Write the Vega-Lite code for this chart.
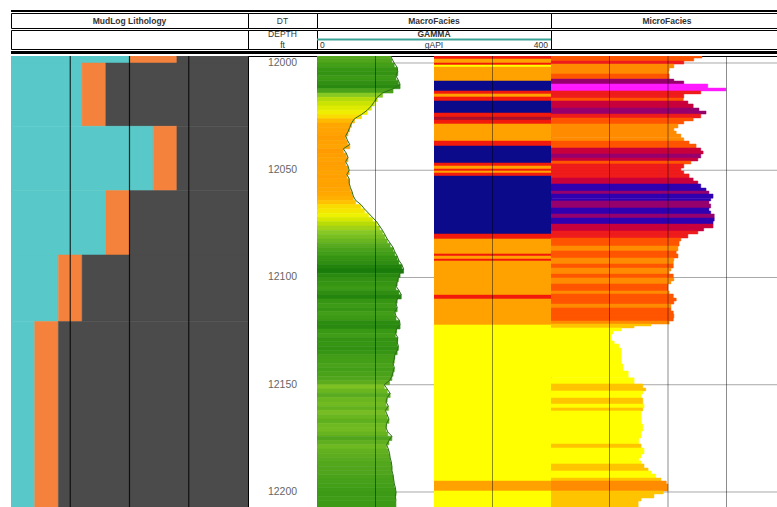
{
"$schema":"https://vega.github.io/schema/vega-lite/v6.json",
"padding":{"left":10,"top":10,"right":0,"bottom":0},
"background":"white",
"config":{"view":{"stroke":"black","strokeWidth":1},"concat":{"spacing":0},"text":{"font":"Liberation Sans","color":"#333"}},
"datasets":{
"lith":[{"d":11995.8,"d2":12000,"t":"lime","a":0,"b":50},{"d":11995.8,"d2":12000,"t":"sand","a":50,"b":70},{"d":11995.8,"d2":12000,"t":"shale","a":70,"b":100},
{"d":12000,"d2":12029.5,"t":"lime","a":0,"b":30},{"d":12000,"d2":12029.5,"t":"sand","a":30,"b":40},{"d":12000,"d2":12029.5,"t":"shale","a":40,"b":100},
{"d":12029.5,"d2":12059.5,"t":"lime","a":0,"b":60},{"d":12029.5,"d2":12059.5,"t":"sand","a":60,"b":70},{"d":12029.5,"d2":12059.5,"t":"shale","a":70,"b":100},
{"d":12059.5,"d2":12089.5,"t":"lime","a":0,"b":40},{"d":12059.5,"d2":12089.5,"t":"sand","a":40,"b":50},{"d":12059.5,"d2":12089.5,"t":"shale","a":50,"b":100},
{"d":12089.5,"d2":12120.5,"t":"lime","a":0,"b":20},{"d":12089.5,"d2":12120.5,"t":"sand","a":20,"b":30},{"d":12089.5,"d2":12120.5,"t":"shale","a":30,"b":100},
{"d":12120.5,"d2":12207,"t":"lime","a":0,"b":10},{"d":12120.5,"d2":12207,"t":"sand","a":10,"b":20},{"d":12120.5,"d2":12207,"t":"shale","a":20,"b":100}],
"labels":[{"depth":12000},{"depth":12050},{"depth":12100},{"depth":12150},{"depth":12200}],
"g4":[{"x":25},{"x":50},{"x":75}],
"vg":[{"x":100},{"x":200},{"x":300}],
"gamma":[{"d":11995.8,"d2":11998,"v":126},{"d":11998,"d2":12000,"v":128},{"d":12000,"d2":12002,"v":132},{"d":12002,"d2":12004,"v":137},{"d":12004,"d2":12006,"v":138},{"d":12006,"d2":12008,"v":135},{"d":12008,"d2":12010,"v":139},{"d":12010,"d2":12012,"v":142},{"d":12012,"d2":12014,"v":130},{"d":12014,"d2":12016,"v":112},{"d":12016,"d2":12018,"v":103},{"d":12018,"d2":12020,"v":98},{"d":12020,"d2":12022,"v":93},{"d":12022,"d2":12024,"v":86},{"d":12024,"d2":12026,"v":76},{"d":12026,"d2":12028,"v":64},{"d":12028,"d2":12030,"v":59},{"d":12030,"d2":12032,"v":56},{"d":12032,"d2":12034,"v":53},{"d":12034,"d2":12036,"v":49},{"d":12036,"d2":12038,"v":52},{"d":12038,"d2":12040,"v":56},{"d":12040,"d2":12042,"v":45},{"d":12042,"d2":12044,"v":50},{"d":12044,"d2":12046,"v":53},{"d":12046,"d2":12048,"v":49},{"d":12048,"d2":12050,"v":53},{"d":12050,"d2":12052,"v":55},{"d":12052,"d2":12054,"v":51},{"d":12054,"d2":12056,"v":55},{"d":12056,"d2":12058,"v":55},{"d":12058,"d2":12060,"v":57},{"d":12060,"d2":12062,"v":60},{"d":12062,"d2":12064,"v":62},{"d":12064,"d2":12066,"v":66},{"d":12066,"d2":12068,"v":75},{"d":12068,"d2":12070,"v":81},{"d":12070,"d2":12072,"v":88},{"d":12072,"d2":12074,"v":95},{"d":12074,"d2":12076,"v":102},{"d":12076,"d2":12078,"v":107},{"d":12078,"d2":12080,"v":112},{"d":12080,"d2":12082,"v":116},{"d":12082,"d2":12084,"v":120},{"d":12084,"d2":12086,"v":125},{"d":12086,"d2":12088,"v":130},{"d":12088,"d2":12090,"v":133},{"d":12090,"d2":12092,"v":137},{"d":12092,"d2":12094,"v":140},{"d":12094,"d2":12096,"v":145},{"d":12096,"d2":12098,"v":148},{"d":12098,"d2":12100,"v":142},{"d":12100,"d2":12102,"v":139},{"d":12102,"d2":12104,"v":137},{"d":12104,"d2":12106,"v":135},{"d":12106,"d2":12108,"v":140},{"d":12108,"d2":12110,"v":144},{"d":12110,"d2":12112,"v":137},{"d":12112,"d2":12114,"v":135},{"d":12114,"d2":12116,"v":137},{"d":12116,"d2":12118,"v":133},{"d":12118,"d2":12120,"v":135},{"d":12120,"d2":12122,"v":141},{"d":12122,"d2":12124,"v":142},{"d":12124,"d2":12126,"v":136},{"d":12126,"d2":12128,"v":134},{"d":12128,"d2":12130,"v":138},{"d":12130,"d2":12132,"v":137},{"d":12132,"d2":12134,"v":139},{"d":12134,"d2":12136,"v":137},{"d":12136,"d2":12138,"v":133},{"d":12138,"d2":12140,"v":132},{"d":12140,"d2":12142,"v":130},{"d":12142,"d2":12144,"v":132},{"d":12144,"d2":12146,"v":130},{"d":12146,"d2":12148,"v":128},{"d":12148,"d2":12150,"v":124},{"d":12150,"d2":12152,"v":115},{"d":12152,"d2":12154,"v":120},{"d":12154,"d2":12156,"v":125},{"d":12156,"d2":12158,"v":120},{"d":12158,"d2":12160,"v":118},{"d":12160,"d2":12162,"v":122},{"d":12162,"d2":12164,"v":117},{"d":12164,"d2":12166,"v":120},{"d":12166,"d2":12168,"v":123},{"d":12168,"d2":12170,"v":119},{"d":12170,"d2":12172,"v":118},{"d":12172,"d2":12174,"v":121},{"d":12174,"d2":12176,"v":128},{"d":12176,"d2":12178,"v":123},{"d":12178,"d2":12180,"v":119},{"d":12180,"d2":12182,"v":122},{"d":12182,"d2":12184,"v":124},{"d":12184,"d2":12186,"v":125},{"d":12186,"d2":12188,"v":127},{"d":12188,"d2":12190,"v":128},{"d":12190,"d2":12192,"v":128},{"d":12192,"d2":12194,"v":130},{"d":12194,"d2":12196,"v":131},{"d":12196,"d2":12198,"v":132},{"d":12198,"d2":12200,"v":134},{"d":12200,"d2":12202,"v":135},{"d":12202,"d2":12204,"v":134},{"d":12204,"d2":12207,"v":135}],
"macro":[{"d":11995.8,"d2":11998.1,"c":"R"},{"d":11998.1,"d2":12000.0,"c":"O"},{"d":12000.0,"d2":12000.9,"c":"R"},{"d":12000.9,"d2":12001.9,"c":"Y"},{"d":12001.9,"d2":12008.4,"c":"O"},{"d":12008.4,"d2":12013.0,"c":"N"},{"d":12013.0,"d2":12014.4,"c":"R"},{"d":12014.4,"d2":12015.8,"c":"O"},{"d":12015.8,"d2":12017.7,"c":"R"},{"d":12017.7,"d2":12023.3,"c":"N"},{"d":12023.3,"d2":12025.2,"c":"R"},{"d":12025.2,"d2":12026.6,"c":"DR"},{"d":12026.6,"d2":12028.4,"c":"R"},{"d":12028.4,"d2":12036.4,"c":"O"},{"d":12036.4,"d2":12038.7,"c":"R"},{"d":12038.7,"d2":12046.6,"c":"N"},{"d":12046.6,"d2":12048.0,"c":"R"},{"d":12048.0,"d2":12049.4,"c":"O"},{"d":12049.4,"d2":12050.3,"c":"R"},{"d":12050.3,"d2":12051.3,"c":"O"},{"d":12051.3,"d2":12052.7,"c":"R"},{"d":12052.7,"d2":12079.7,"c":"N"},{"d":12079.7,"d2":12082.0,"c":"R"},{"d":12082.0,"d2":12089.0,"c":"O"},{"d":12089.0,"d2":12090.0,"c":"R"},{"d":12090.0,"d2":12091.4,"c":"O"},{"d":12091.4,"d2":12092.3,"c":"R"},{"d":12092.3,"d2":12108.2,"c":"O"},{"d":12108.2,"d2":12110.0,"c":"R"},{"d":12110.0,"d2":12122.1,"c":"O"},{"d":12122.1,"d2":12194.9,"c":"Y"},{"d":12194.9,"d2":12199.5,"c":"O"},{"d":12199.5,"d2":12207,"c":"Y"}],
"micro":[{"d":11995.8,"d2":11997.7,"v":258,"c":"RO"},{"d":11997.7,"d2":11999.1,"v":244,"c":"RO"},{"d":11999.1,"d2":12000.5,"v":227,"c":"R"},{"d":12000.5,"d2":12002.3,"v":210,"c":"O"},{"d":12002.3,"d2":12003.7,"v":202,"c":"O"},{"d":12003.7,"d2":12005.1,"v":201,"c":"O"},{"d":12005.1,"d2":12007.5,"v":202,"c":"RO"},{"d":12007.5,"d2":12008.4,"v":210,"c":"P"},{"d":12008.4,"d2":12009.8,"v":227,"c":"P"},{"d":12009.8,"d2":12011.7,"v":268,"c":"M"},{"d":12011.7,"d2":12013.0,"v":299,"c":"M"},{"d":12013.0,"d2":12014.4,"v":256,"c":"R"},{"d":12014.4,"d2":12016.3,"v":227,"c":"R"},{"d":12016.3,"d2":12017.7,"v":226,"c":"RO"},{"d":12017.7,"d2":12019.1,"v":234,"c":"C"},{"d":12019.1,"d2":12021.0,"v":243,"c":"C"},{"d":12021.0,"d2":12022.4,"v":253,"c":"P"},{"d":12022.4,"d2":12023.8,"v":265,"c":"P"},{"d":12023.8,"d2":12025.6,"v":256,"c":"R"},{"d":12025.6,"d2":12027.0,"v":243,"c":"RO"},{"d":12027.0,"d2":12028.4,"v":227,"c":"RO"},{"d":12028.4,"d2":12030.3,"v":217,"c":"O"},{"d":12030.3,"d2":12031.7,"v":210,"c":"O"},{"d":12031.7,"d2":12033.1,"v":214,"c":"O"},{"d":12033.1,"d2":12034.9,"v":222,"c":"O"},{"d":12034.9,"d2":12036.4,"v":227,"c":"O"},{"d":12036.4,"d2":12037.8,"v":236,"c":"RO"},{"d":12037.8,"d2":12039.6,"v":248,"c":"RO"},{"d":12039.6,"d2":12041.0,"v":256,"c":"C"},{"d":12041.0,"d2":12042.4,"v":260,"c":"C"},{"d":12042.4,"d2":12044.3,"v":256,"c":"P"},{"d":12044.3,"d2":12045.7,"v":251,"c":"C"},{"d":12045.7,"d2":12047.1,"v":239,"c":"RO"},{"d":12047.1,"d2":12049.0,"v":227,"c":"R"},{"d":12049.0,"d2":12050.3,"v":222,"c":"R"},{"d":12050.3,"d2":12051.7,"v":227,"c":"R"},{"d":12051.7,"d2":12053.6,"v":236,"c":"R"},{"d":12053.6,"d2":12055.0,"v":243,"c":"C"},{"d":12055.0,"d2":12056.4,"v":251,"c":"C"},{"d":12056.4,"d2":12058.3,"v":256,"c":"I"},{"d":12058.3,"d2":12059.7,"v":265,"c":"I"},{"d":12059.7,"d2":12061.1,"v":270,"c":"P"},{"d":12061.1,"d2":12063.0,"v":277,"c":"I"},{"d":12063.0,"d2":12064.3,"v":273,"c":"I"},{"d":12064.3,"d2":12065.7,"v":270,"c":"P"},{"d":12065.7,"d2":12067.6,"v":273,"c":"P"},{"d":12067.6,"d2":12069.0,"v":270,"c":"I"},{"d":12069.0,"d2":12070.4,"v":273,"c":"I"},{"d":12070.4,"d2":12072.3,"v":279,"c":"P"},{"d":12072.3,"d2":12073.7,"v":279,"c":"I"},{"d":12073.7,"d2":12075.1,"v":277,"c":"I"},{"d":12075.1,"d2":12076.9,"v":277,"c":"C"},{"d":12076.9,"d2":12078.3,"v":261,"c":"C"},{"d":12078.3,"d2":12079.7,"v":251,"c":"R"},{"d":12079.7,"d2":12081.6,"v":234,"c":"R"},{"d":12081.6,"d2":12083.0,"v":222,"c":"RO"},{"d":12083.0,"d2":12085.3,"v":219,"c":"RO"},{"d":12085.3,"d2":12087.6,"v":217,"c":"O"},{"d":12087.6,"d2":12089.0,"v":214,"c":"RO"},{"d":12089.0,"d2":12090.9,"v":217,"c":"RO"},{"d":12090.9,"d2":12092.3,"v":210,"c":"O"},{"d":12092.3,"d2":12093.7,"v":209,"c":"O"},{"d":12093.7,"d2":12095.6,"v":209,"c":"RO"},{"d":12095.6,"d2":12097.0,"v":205,"c":"O"},{"d":12097.0,"d2":12098.4,"v":202,"c":"O"},{"d":12098.4,"d2":12100.2,"v":209,"c":"RO"},{"d":12100.2,"d2":12101.6,"v":210,"c":"O"},{"d":12101.6,"d2":12103.0,"v":205,"c":"O"},{"d":12103.0,"d2":12104.9,"v":200,"c":"RO"},{"d":12104.9,"d2":12106.3,"v":200,"c":"RO"},{"d":12106.3,"d2":12107.7,"v":202,"c":"O"},{"d":12107.7,"d2":12109.6,"v":209,"c":"RO"},{"d":12109.6,"d2":12111.0,"v":214,"c":"RO"},{"d":12111.0,"d2":12112.4,"v":210,"c":"RO"},{"d":12112.4,"d2":12114.2,"v":205,"c":"O"},{"d":12114.2,"d2":12115.6,"v":205,"c":"RO"},{"d":12115.6,"d2":12117.0,"v":209,"c":"RO"},{"d":12117.0,"d2":12118.9,"v":210,"c":"RO"},{"d":12118.9,"d2":12120.3,"v":209,"c":"RO"},{"d":12120.3,"d2":12121.7,"v":202,"c":"O"},{"d":12121.7,"d2":12122.6,"v":171,"c":"LO"},{"d":12122.6,"d2":12123.5,"v":142,"c":"LO"},{"d":12123.5,"d2":12124.9,"v":120,"c":"Y"},{"d":12124.9,"d2":12126.3,"v":106,"c":"Y"},{"d":12126.3,"d2":12128.2,"v":103,"c":"Y"},{"d":12128.2,"d2":12129.6,"v":103,"c":"Y"},{"d":12129.6,"d2":12131.0,"v":108,"c":"Y"},{"d":12131.0,"d2":12132.9,"v":116,"c":"Y"},{"d":12132.9,"d2":12137.5,"v":120,"c":"Y"},{"d":12137.5,"d2":12140.3,"v":120,"c":"Y"},{"d":12140.3,"d2":12143.6,"v":123,"c":"Y"},{"d":12143.6,"d2":12146.8,"v":132,"c":"Y"},{"d":12146.8,"d2":12149.6,"v":142,"c":"Y"},{"d":12149.6,"d2":12151.5,"v":157,"c":"LO"},{"d":12151.5,"d2":12152.9,"v":162,"c":"LO"},{"d":12152.9,"d2":12154.3,"v":157,"c":"Y"},{"d":12154.3,"d2":12156.2,"v":154,"c":"Y"},{"d":12156.2,"d2":12159.0,"v":157,"c":"LO"},{"d":12159.0,"d2":12160.8,"v":159,"c":"Y"},{"d":12160.8,"d2":12162.2,"v":157,"c":"LO"},{"d":12162.2,"d2":12165.5,"v":154,"c":"Y"},{"d":12165.5,"d2":12168.3,"v":154,"c":"Y"},{"d":12168.3,"d2":12171.6,"v":157,"c":"Y"},{"d":12171.6,"d2":12174.8,"v":154,"c":"Y"},{"d":12174.8,"d2":12177.6,"v":150,"c":"Y"},{"d":12177.6,"d2":12179.5,"v":154,"c":"LO"},{"d":12179.5,"d2":12182.3,"v":159,"c":"Y"},{"d":12182.3,"d2":12184.1,"v":154,"c":"Y"},{"d":12184.1,"d2":12185.5,"v":150,"c":"Y"},{"d":12185.5,"d2":12186.9,"v":154,"c":"Y"},{"d":12186.9,"d2":12188.8,"v":159,"c":"LO"},{"d":12188.8,"d2":12190.2,"v":166,"c":"LO"},{"d":12190.2,"d2":12191.6,"v":171,"c":"Y"},{"d":12191.6,"d2":12193.5,"v":179,"c":"Y"},{"d":12193.5,"d2":12194.9,"v":188,"c":"LO"},{"d":12194.9,"d2":12196.3,"v":197,"c":"O"},{"d":12196.3,"d2":12198.1,"v":200,"c":"O"},{"d":12198.1,"d2":12199.5,"v":200,"c":"O"},{"d":12199.5,"d2":12200.9,"v":192,"c":"LO"},{"d":12200.9,"d2":12202.8,"v":176,"c":"LO"},{"d":12202.8,"d2":12204.2,"v":154,"c":"LO"},{"d":12204.2,"d2":12207,"v":149,"c":"LO"}]
},
"spacing":0,
"resolve":{"scale":{"color":"independent","fill":"independent","stroke":"independent"}},
"vconcat":[
{"width":766,"height":2,"view":{"stroke":null},"data":{"values":[{}]},"mark":{"type":"rect","color":"black"},"encoding":{}},
{"spacing":0,"bounds":"flush","hconcat":[
 {"width":237,"height":15,"data":{"values":[{"t":"MudLog Lithology","k":"h"}]},"mark":{"type":"text","fontWeight":"bold","fontSize":8.5},"encoding":{"y":{"field":"k","type":"nominal","axis":null},"text":{"field":"t","type":"nominal"}}},
 {"width":69,"height":15,"data":{"values":[{"t":"DT","k":"h"}]},"mark":{"type":"text","fontSize":8.5},"encoding":{"y":{"field":"k","type":"nominal","axis":null},"text":{"field":"t","type":"nominal"}}},
 {"width":234,"height":15,"data":{"values":[{"t":"MacroFacies","k":"h"}]},"mark":{"type":"text","fontWeight":"bold","fontSize":8.5},"encoding":{"y":{"field":"k","type":"nominal","axis":null},"text":{"field":"t","type":"nominal"}}},
 {"width":226,"height":15,"data":{"values":[{"t":"MicroFacies","k":"h"}]},"mark":{"type":"text","fontWeight":"bold","fontSize":8.5,"dx":3},"encoding":{"y":{"field":"k","type":"nominal","axis":null},"text":{"field":"t","type":"nominal"}}}
]},
{"spacing":0,"bounds":"flush","hconcat":[
 {"width":237,"height":19,"data":{"values":[{"t":"","k":"h"}]},"mark":{"type":"text","fontSize":8.5},"encoding":{"y":{"field":"k","type":"nominal","axis":null},"text":{"field":"t","type":"nominal"}}},
 {"width":69,"height":19,"data":{"values":[{"t":["DEPTH","ft"],"k":"h"}]},"mark":{"type":"text","fontSize":8.5,"lineHeight":10.5,"dy":-5.25},"encoding":{"y":{"field":"k","type":"nominal","axis":null},"text":{"field":"t","type":"nominal"}}},
 {"width":234,"height":19,"layer":[
  {"data":{"values":[{"t":"GAMMA","r":"a"}]},"mark":{"type":"text","fontWeight":"bold","fontSize":8.5},"encoding":{"y":{"field":"r","type":"nominal","scale":{"type":"point","domain":["a","m","b"],"padding":0.6},"axis":null},"text":{"field":"t","type":"nominal"}}},
  {"data":{"values":[{"r":"m"}]},"mark":{"type":"rule","color":"#3aa597","strokeWidth":2},"encoding":{"y":{"field":"r","type":"nominal","axis":null}}},
  {"data":{"values":[{"t":"0","p":0,"r":"b"}]},"mark":{"type":"text","fontSize":8.5,"align":"left","dx":3},"encoding":{"x":{"field":"p","type":"quantitative","scale":{"domain":[0,400],"nice":false},"axis":null},"y":{"field":"r","type":"nominal","axis":null},"text":{"field":"t","type":"nominal"}}},
  {"data":{"values":[{"t":"gAPI","p":200,"r":"b"}]},"mark":{"type":"text","fontSize":8.5},"encoding":{"x":{"field":"p","type":"quantitative","axis":null},"y":{"field":"r","type":"nominal","axis":null},"text":{"field":"t","type":"nominal"}}},
  {"data":{"values":[{"t":"400","p":400,"r":"b"}]},"mark":{"type":"text","fontSize":8.5,"align":"right","dx":-3},"encoding":{"x":{"field":"p","type":"quantitative","axis":null},"y":{"field":"r","type":"nominal","axis":null},"text":{"field":"t","type":"nominal"}}}]},
 {"width":226,"height":19,"data":{"values":[{"t":"","k":"h"}]},"mark":{"type":"text","fontSize":8.5},"encoding":{"y":{"field":"k","type":"nominal","axis":null},"text":{"field":"t","type":"nominal"}}}
]},
{"width":766,"height":3,"view":{"stroke":null},"data":{"values":[{}]},"mark":{"type":"rect","color":"black"},"encoding":{}},
{"spacing":0,"bounds":"flush","resolve":{"scale":{"color":"independent","fill":"independent","stroke":"independent"}},"hconcat":[
 {"width":237,"height":451,"layer":[
  {"data":{"name":"lith"},"mark":{"type":"rect","clip":true,"strokeWidth":0.5},"encoding":{"x":{"field":"a","type":"quantitative","scale":{"domain":[0,100],"nice":false,"zero":false},"axis":null},"x2":{"field":"b"},"y":{"field":"d","type":"quantitative","scale":{"domain":[11996.74,12207.0],"reverse":true,"nice":false,"zero":false},"axis":null},"y2":{"field":"d2"},"fill":{"field":"t","type":"nominal","scale":{"domain":["lime","sand","shale"],"range":["#58c8c8","#f4823c","#4b4b4b"]},"legend":null},"stroke":{"field":"t","type":"nominal","scale":{"domain":["lime","sand","shale"],"range":["#58c8c8","#f4823c","#4b4b4b"]},"legend":null}}},
  {"data":{"name":"g4"},"mark":{"type":"rule","color":"black","strokeWidth":1.2,"opacity":0.8},"encoding":{"x":{"field":"x","type":"quantitative","axis":null}}}]},
 {"width":69,"height":451,"data":{"name":"labels"},"mark":{"type":"text","fontSize":10.5,"color":"#666"},"encoding":{"y":{"field":"depth","type":"quantitative","scale":{"domain":[11996.74,12207.0],"reverse":true,"nice":false,"zero":false},"axis":null},"text":{"field":"depth","type":"quantitative","format":"d"}}},
 {"width":117,"height":451,"layer":[
  {"data":{"name":"labels"},"mark":{"type":"rule","color":"#a8a8a8"},"encoding":{"y":{"field":"depth","type":"quantitative","scale":{"domain":[11996.74,12207.0],"reverse":true,"nice":false,"zero":false},"axis":null}}},
  {"data":{"name":"gamma"},"mark":{"type":"rect","clip":true,"strokeWidth":0.6},"encoding":{"x":{"field":"v","type":"quantitative","scale":{"domain":[0,200],"nice":false},"axis":null},"y":{"field":"d","type":"quantitative","axis":null},"y2":{"field":"d2"},"fill":{"field":"v","type":"quantitative","scale":{"domain":[44,60,70,88,100,112,125,135,148],"range":["#ff9900","#ffa800","#ffd200","#eef200","#c4e000","#88c824","#58aa1e","#3c9a16","#1a7c0a"],"interpolate":"rgb"},"legend":null},"stroke":{"field":"v","type":"quantitative","scale":{"domain":[44,60,70,88,100,112,125,135,148],"range":["#ff9900","#ffa800","#ffd200","#eef200","#c4e000","#88c824","#58aa1e","#3c9a16","#1a7c0a"],"interpolate":"rgb"},"legend":null}}},
  {"data":{"name":"gamma"},"mark":{"type":"line","color":"#2f6e1e","strokeWidth":1,"clip":true},"encoding":{"x":{"field":"v","type":"quantitative","axis":null},"y":{"field":"d","type":"quantitative","axis":null},"order":{"field":"d","type":"quantitative"}}},
  {"data":{"values":[{"x":100}]},"mark":{"type":"rule","color":"black","opacity":0.45},"encoding":{"x":{"field":"x","type":"quantitative","axis":null}}}]},
 {"width":117,"height":451,"layer":[
  {"data":{"name":"macro"},"mark":{"type":"rect","clip":true,"strokeWidth":0.5},"encoding":{"y":{"field":"d","type":"quantitative","scale":{"domain":[11996.74,12207.0],"reverse":true,"nice":false,"zero":false},"axis":null},"y2":{"field":"d2"},"fill":{"field":"c","type":"nominal","scale":{"domain":["N","R","DR","O","Y"],"range":["#0a0a8a","#f21a0c","#a8102c","#ffa200","#ffff00"]},"legend":null},"stroke":{"field":"c","type":"nominal","scale":{"domain":["N","R","DR","O","Y"],"range":["#0a0a8a","#f21a0c","#a8102c","#ffa200","#ffff00"]},"legend":null}}},
  {"data":{"values":[{"x":300}]},"mark":{"type":"rule","color":"black","opacity":0.45},"encoding":{"x":{"field":"x","type":"quantitative","scale":{"domain":[200,400],"nice":false,"zero":false},"axis":null}}}]},
 {"width":226,"height":451,"layer":[
  {"data":{"name":"labels"},"mark":{"type":"rule","color":"#a8a8a8"},"encoding":{"y":{"field":"depth","type":"quantitative","scale":{"domain":[11996.74,12207.0],"reverse":true,"nice":false,"zero":false},"axis":null}}},
  {"data":{"name":"micro"},"mark":{"type":"rect","clip":true,"strokeWidth":0.5},"encoding":{"x":{"field":"v","type":"quantitative","scale":{"domain":[0,386.3],"nice":false},"axis":null},"y":{"field":"d","type":"quantitative","axis":null},"y2":{"field":"d2"},"fill":{"field":"c","type":"nominal","scale":{"domain":["O","RO","R","C","P","M","I","Y","LO"],"range":["#ff8c00","#ff5500","#ee1c1c","#c8003c","#96006e","#ff1aff","#3000b0","#ffff00","#ffc400"]},"legend":null},"stroke":{"field":"c","type":"nominal","scale":{"domain":["O","RO","R","C","P","M","I","Y","LO"],"range":["#ff8c00","#ff5500","#ee1c1c","#c8003c","#96006e","#ff1aff","#3000b0","#ffff00","#ffc400"]},"legend":null}}},
  {"data":{"name":"vg"},"mark":{"type":"rule","color":"black","opacity":0.45},"encoding":{"x":{"field":"x","type":"quantitative","axis":null}}}]}
]}
]
}
